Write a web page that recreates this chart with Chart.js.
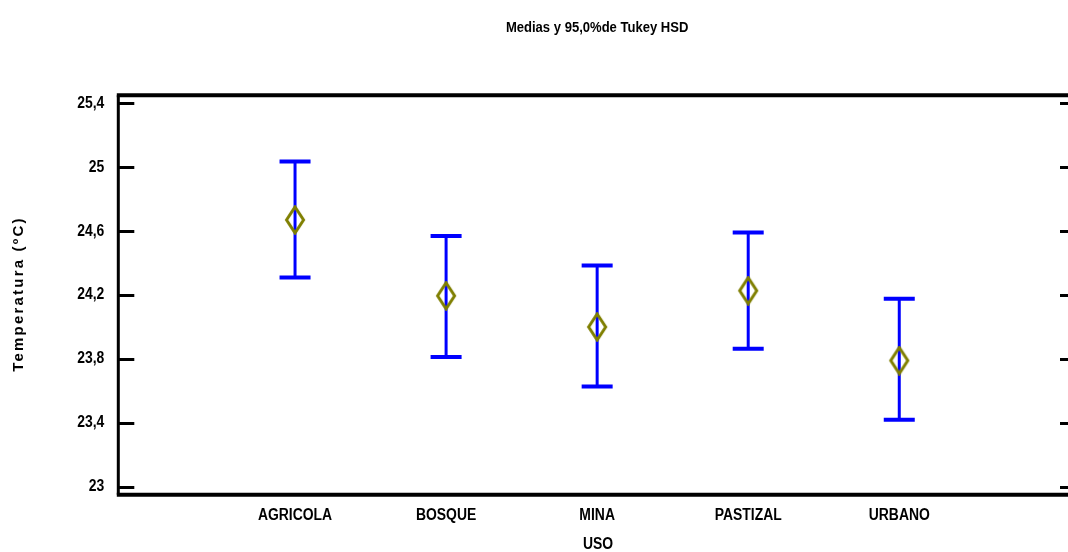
<!DOCTYPE html>
<html><head><meta charset="utf-8">
<script src="https://cdn.jsdelivr.net/npm/chart.js@4.4.1/dist/chart.umd.min.js"></script>
<style>
html,body{margin:0;padding:0;overflow:hidden;background:#fff;width:1068px;height:552px}
#wrap{width:1068px;height:552px;overflow:hidden;position:relative;background:#fff}
canvas{display:block}
</style></head><body>
<div id="wrap"><canvas id="c" width="1091" height="552" style="width:1091px;height:552px"></canvas></div>
<script>
const categories = ['AGRICOLA', 'BOSQUE', 'MINA', 'PASTIZAL', 'URBANO'];
const xPositions = [1, 2, 3, 4, 5];
const means = [24.67, 24.195, 24.0, 24.227, 23.79];
const lower = [24.31, 23.812, 23.628, 23.863, 23.419];
const upper = [25.035, 24.57, 24.384, 24.591, 24.176];
const yTicks = [23, 23.4, 23.8, 24.2, 24.6, 25, 25.4];
const chartTitle = 'Medias y 95,0%de Tukey HSD';
const yTitle = 'Temperatura (ºC)';
const xTitle = 'USO';

// 'NarrowFace' is a marker: text in this family is drawn horizontally condensed (like Arial Narrow)
const NARROW = "NarrowFace,'Liberation Sans',Arial,sans-serif";
const NARROW_SCALE = 0.87;

const canvas = document.getElementById('c');
const ctx0 = canvas.getContext('2d');
const origFillText = ctx0.fillText;
ctx0.fillText = function(text, x, y, maxWidth) {
  if (!/NarrowFace/.test(this.font)) return origFillText.call(this, text, x, y, maxWidth);
  this.save();
  this.translate(x, y);
  this.scale(NARROW_SCALE, 1);
  origFillText.call(this, text, 0, 0);
  this.restore();
};

// tall diamond marker
const dia = document.createElement('canvas');
dia.width = 22; dia.height = 30;
(function(){
  const g = dia.getContext('2d');
  g.strokeStyle = '#7f7f00';
  g.lineWidth = 3;
  g.lineJoin = 'miter';
  g.beginPath();
  g.moveTo(11, 2); g.lineTo(19.5, 15); g.lineTo(11, 28); g.lineTo(2.5, 15); g.closePath();
  g.stroke();
})();

const framePlugin = {
  id: 'frame',
  beforeDatasetsDraw(chart) {
    const {ctx, chartArea: a, scales: {x, y}} = chart;
    ctx.save();
    ctx.strokeStyle = '#000';
    ctx.lineCap = 'butt';
    ctx.lineWidth = 4;
    ctx.beginPath();
    ctx.moveTo(a.left - 1.5, a.top); ctx.lineTo(a.right + 2, a.top);
    ctx.moveTo(a.left - 1.5, a.bottom); ctx.lineTo(a.right + 2, a.bottom);
    ctx.stroke();
    ctx.lineWidth = 3;
    ctx.beginPath();
    ctx.moveTo(a.left, a.top); ctx.lineTo(a.left, a.bottom);
    ctx.moveTo(a.right, a.top); ctx.lineTo(a.right, a.bottom);
    ctx.stroke();
    ctx.lineWidth = 3;
    ctx.beginPath();
    y.ticks.forEach(t => {
      const py = Math.round(y.getPixelForValue(t.value)) + 0.5;
      ctx.moveTo(a.left, py); ctx.lineTo(a.left + 16, py);
      ctx.moveTo(a.right - 16, py); ctx.lineTo(a.right, py);
    });
    ctx.stroke();
    ctx.strokeStyle = '#0000ff';
    for (let i = 0; i < categories.length; i++) {
      const px = x.getPixelForValue(xPositions[i]);
      const pt = y.getPixelForValue(upper[i]);
      const pb = y.getPixelForValue(lower[i]);
      ctx.lineWidth = 3;
      ctx.beginPath(); ctx.moveTo(px, pt); ctx.lineTo(px, pb); ctx.stroke();
      ctx.lineWidth = 4;
      ctx.beginPath();
      ctx.moveTo(px - 15.5, pt); ctx.lineTo(px + 15.5, pt);
      ctx.moveTo(px - 15.5, pb); ctx.lineTo(px + 15.5, pb);
      ctx.stroke();
    }
    ctx.restore();
  },
  afterDraw(chart) {
    const {ctx} = chart;
    ctx.save();
    ctx.fillStyle = '#000';
    ctx.font = "bold 15px 'Liberation Sans', Arial, sans-serif";
    try { ctx.letterSpacing = '2.2px'; } catch(e) {}
    ctx.textAlign = 'center';
    ctx.textBaseline = 'middle';
    ctx.translate(19, 294);
    ctx.rotate(-Math.PI / 2);
    ctx.fillText(yTitle, 0, 0);
    ctx.restore();
    ctx.save();
    ctx.fillStyle = '#000';
    ctx.font = "bold 16px " + NARROW;
    ctx.textAlign = 'center';
    ctx.textBaseline = 'middle';
    ctx.fillText(xTitle, 598, 545);
    ctx.restore();
  }
};

new Chart(canvas, {
  type: 'scatter',
  data: {
    datasets: [{
      data: means.map((m, i) => ({x: xPositions[i], y: m})),
      pointStyle: dia,
      pointRadius: 14,
      pointHoverRadius: 14,
      showLine: false
    }]
  },
  options: {
    responsive: false,
    animation: false,
    devicePixelRatio: 1,
    events: [],
    layout: {padding: {left: 0, right: 1, top: 0, bottom: 0}},
    plugins: {
      legend: {display: false},
      tooltip: {enabled: false},
      title: {
        display: true,
        fullSize: false,
        text: chartTitle,
        color: '#000',
        font: {family: NARROW, size: 15, weight: 'bold', lineHeight: 1.2},
        padding: {top: 19, bottom: 58.3}
      }
    },
    scales: {
      x: {
        type: 'linear',
        min: -0.17,
        max: 6.17,
        grid: {display: false, drawTicks: false},
        border: {display: false},
        afterBuildTicks: s => { s.ticks = xPositions.map(v => ({value: v})); },
        afterFit: s => { s.height = 57.3; },
        ticks: {
          autoSkip: false,
          maxRotation: 0,
          padding: 11,
          color: '#000',
          font: {family: NARROW, size: 16, weight: 'bold'},
          callback: v => { const i = xPositions.indexOf(v); return i >= 0 ? categories[i] : ''; }
        }
      },
      y: {
        min: 22.95,
        max: 25.45,
        grid: {display: false, drawTicks: false},
        border: {display: false},
        afterBuildTicks: s => { s.ticks = yTicks.map(v => ({value: v})); },
        afterFit: s => { s.width = 118.3; },
        ticks: {
          padding: 14,
          color: '#000',
          font: {family: NARROW, size: 16, weight: 'bold'},
          callback: v => String(v).replace('.', ',')
        }
      }
    }
  },
  plugins: [framePlugin]
});
</script>
</body></html>
